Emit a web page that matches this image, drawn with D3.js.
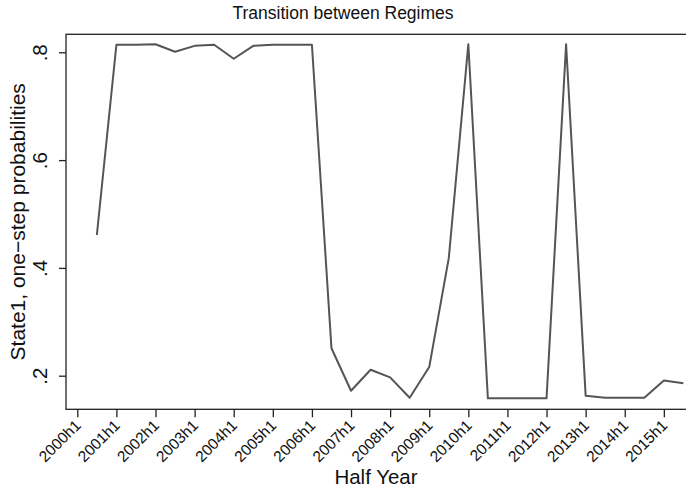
<!DOCTYPE html>
<html>
<head>
<meta charset="utf-8">
<script src="https://cdn.jsdelivr.net/npm/d3@7"></script>
<style>
body { margin: 0; background: #fff; }
svg { display: block; font-family: "Liberation Sans", Arial, sans-serif; }
</style>
</head>
<body>
<script>
// half years, 2000h1 .. 2015h2
var periods = [];
for (var yr = 2000; yr <= 2015; yr++) { periods.push(yr + "h1"); periods.push(yr + "h2"); }

// State1 one-step probabilities (2000h1 has no value)
var probs = [null,
    0.461, 0.814, 0.814, 0.815, 0.801, 0.812, 0.814, 0.788, 0.812, 0.814,
    0.814, 0.814, 0.251, 0.172, 0.211, 0.197, 0.159, 0.216, 0.418, 0.815,
    0.158, 0.158, 0.158, 0.158, 0.815, 0.163, 0.159, 0.159, 0.159, 0.191,
    0.186];

var yTicks = [0.2, 0.4, 0.6, 0.8];
var yTickLabels = [".2", ".4", ".6", ".8"];

var W = 686, H = 492;
var svg = d3.select("body").append("svg").attr("width", W).attr("height", H);

var x = d3.scaleLinear().domain([0, 31]).range([77.3, 683.4]);
var y = d3.scaleLinear().domain([0.2, 0.8]).range([375.7, 52.3]);

var plotLeft = 66, plotTop = 34.3, plotBottom = 409.3;

// plot region outline
svg.append("rect")
    .attr("x", plotLeft).attr("y", plotTop)
    .attr("width", W + 10 - plotLeft).attr("height", plotBottom - plotTop)
    .attr("fill", "none").attr("stroke", "#222").attr("stroke-width", 1.3);

// y axis
var yAxis = svg.append("g")
    .attr("transform", "translate(" + plotLeft + ",0)")
    .call(d3.axisLeft(y).tickValues(yTicks).tickSize(7)
        .tickFormat(function(d, i) { return yTickLabels[i]; }));
yAxis.select(".domain").remove();
yAxis.selectAll("line").attr("stroke", "#222").attr("stroke-width", 1.3);
yAxis.selectAll("text")
    .attr("x", 0).attr("y", 0).attr("dy", 0)
    .attr("transform", "translate(-19,0) rotate(-90)")
    .attr("text-anchor", "middle")
    .style("font-size", "20.5px").attr("fill", "#111");

// x axis
var xTickVals = d3.range(0, 31, 2);
var xAxis = svg.append("g")
    .attr("transform", "translate(0," + plotBottom + ")")
    .call(d3.axisBottom(x).tickValues(xTickVals).tickSize(8)
        .tickFormat(function(d) { return periods[d]; }));
xAxis.select(".domain").remove();
xAxis.selectAll("line").attr("stroke", "#222").attr("stroke-width", 1.3);
xAxis.selectAll("text")
    .attr("text-anchor", "end")
    .attr("y", 0).attr("dy", 0)
    .attr("transform", "translate(4,17) rotate(-45)")
    .style("font-size", "15.5px").attr("fill", "#111");

// the line
var line = d3.line()
    .defined(function(d) { return d != null; })
    .x(function(d, i) { return x(i); })
    .y(function(d) { return y(d); });

svg.append("path")
    .datum(probs)
    .attr("d", line)
    .attr("fill", "none")
    .attr("stroke", "#555")
    .attr("stroke-width", 2)
    .attr("stroke-linejoin", "round");

// titles
svg.append("text")
    .attr("x", 343).attr("y", 19)
    .attr("text-anchor", "middle")
    .style("font-size", "17.5px").attr("fill", "#111")
    .text("Transition between Regimes");

svg.append("text")
    .attr("x", 376).attr("y", 484)
    .attr("text-anchor", "middle")
    .style("font-size", "20.5px").attr("fill", "#111")
    .text("Half Year");

svg.append("text")
    .attr("transform", "translate(25," + ((plotTop + plotBottom) / 2) + ") rotate(-90)")
    .attr("text-anchor", "middle")
    .style("font-size", "21px").attr("fill", "#111")
    .text("State1, one\u2212step probabilities");
</script>
</body>
</html>
